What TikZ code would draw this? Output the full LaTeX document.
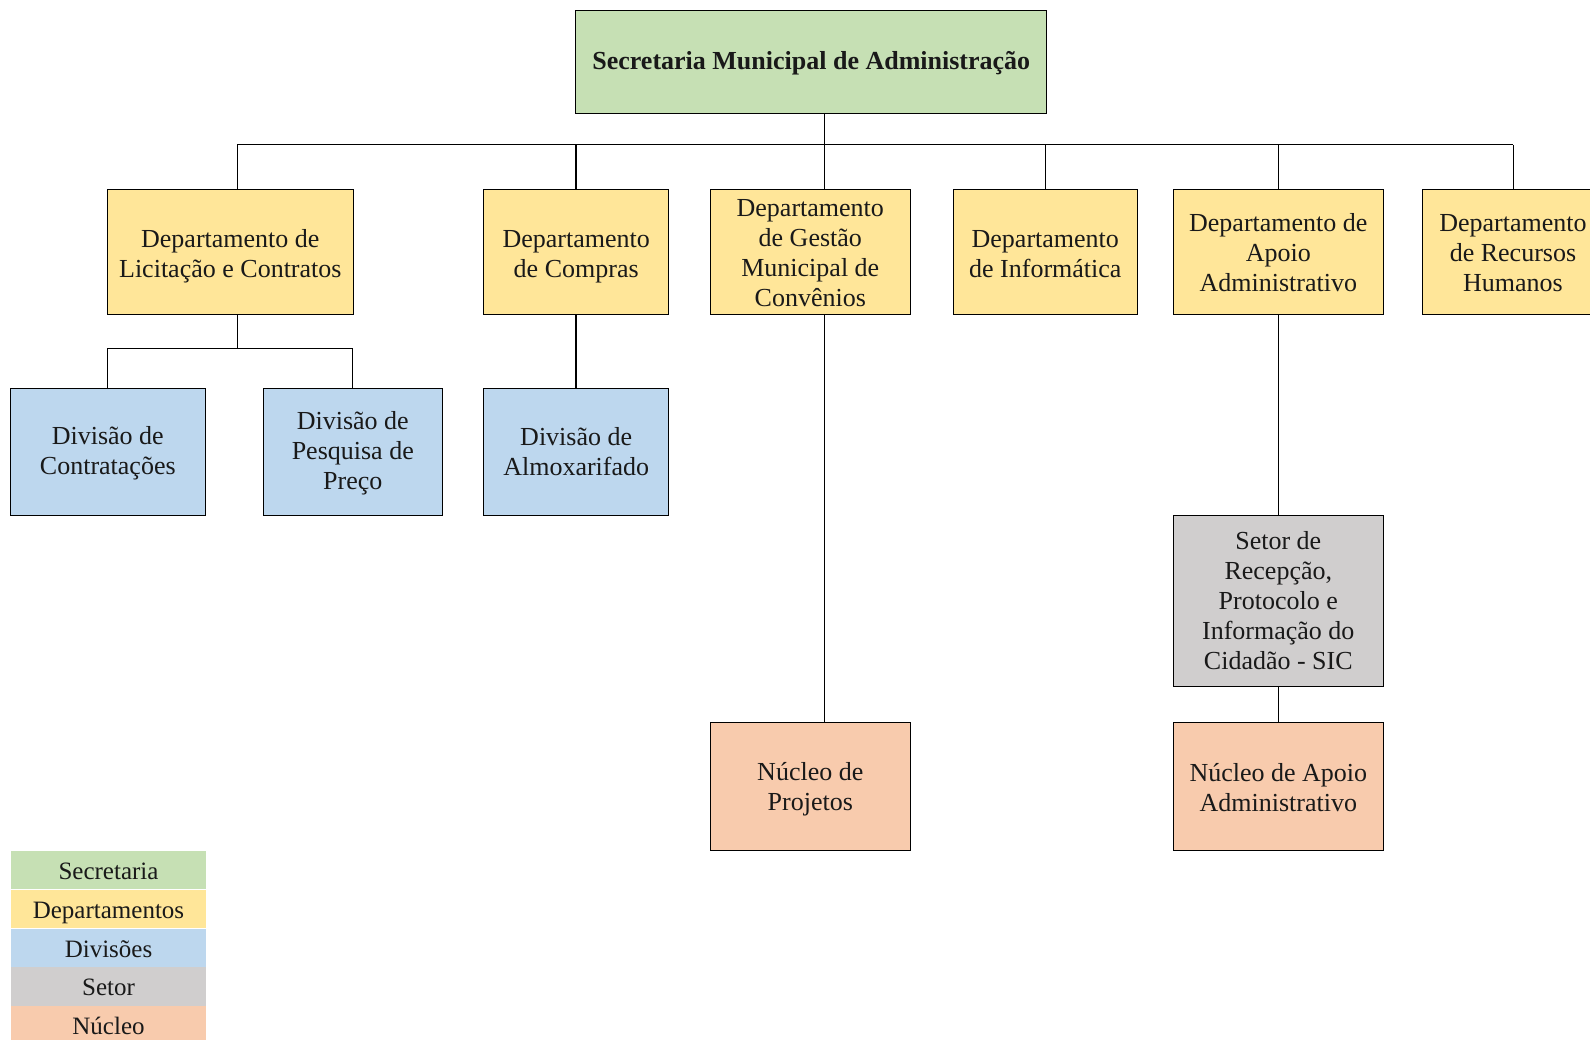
\documentclass[tikz,border=0pt]{standalone}
\usepackage{fontspec}
\setmainfont{Liberation Serif}
\definecolor{cSec}{HTML}{C6E0B4}
\definecolor{cDep}{HTML}{FFE699}
\definecolor{cDiv}{HTML}{BDD7EE}
\definecolor{cSet}{HTML}{D0CECE}
\definecolor{cNuc}{HTML}{F8CBAD}
% strut that pushes a node's text down by #1 pt
\newcommand\pushdown[1]{\rule{0pt}{\dimexpr17.8pt+2\dimexpr#1pt\relax\relax}}
\tikzset{
  box/.style={draw=black, line width=1pt, inner sep=0pt, align=center,
    font=\fontsize{26}{30}\selectfont, text=black!90},
  dep/.style={box, fill=cDep, minimum height=124.7pt},
  divbox/.style={box, fill=cDiv, minimum height=127pt},
  legbox/.style={inner sep=0pt, minimum width=195pt, minimum height=38.4pt,
    text height=18.5pt, text depth=0pt,
    font=\fontsize{25}{28}\selectfont, text=black!90},
  conn/.style={draw=black, line width=1pt},
  thick conn/.style={draw=black, line width=2pt}
}
\begin{document}
\begin{tikzpicture}[x=1pt,y=-1pt]
\clip (0,0) rectangle (1590,1040);
\useasboundingbox (0,0) rectangle (1590,1040);
\fill[white] (0,0) rectangle (1590,1040);

% top
\node[box, fill=cSec, minimum width=471.3pt, minimum height=103pt,
  font=\bfseries\fontsize{26}{30}\selectfont] (top) at (811.3,61.8)
  {\pushdown{2}Secretaria Municipal de Administração};

% departments
\node[dep, minimum width=246pt] (lic) at (230.3,251.7) {\pushdown{5}Departamento de\\Licitação e Contratos};
\node[dep, minimum width=185pt] (comp) at (576.2,251.7) {\pushdown{5}Departamento\\de Compras};
\node[dep, minimum width=200pt] (conv) at (810.3,251.7) {\pushdown{1}Departamento\\de Gestão\\Municipal de\\Convênios};
\node[dep, minimum width=184pt] (info) at (1045.3,251.7) {\pushdown{2}Departamento\\de Informática};
\node[dep, minimum width=210pt] (apoio) at (1278.3,251.7) {\pushdown{1}Departamento de\\Apoio\\Administrativo};
\node[dep, minimum width=181.4pt] (rh) at (1513,251.7) {\pushdown{1}Departamento\\de Recursos\\Humanos};

% divisions
\node[divbox, minimum width=195pt] (contr) at (107.8,451.8) {\pushdown{2}Divisão de\\Contratações};
\node[divbox, minimum width=179pt] (pesq) at (352.8,451.8) {\pushdown{2}Divisão de\\Pesquisa de\\Preço};
\node[divbox, minimum width=185pt] (almox) at (576.2,451.8) {Divisão de\\Almoxarifado};

% setor and nucleos
\node[box, fill=cSet, minimum width=210pt, minimum height=170.7pt] (setor) at (1278.3,600.7)
  {Setor de\\Recepção,\\Protocolo e\\Informação do\\Cidadão - SIC};
\node[box, fill=cNuc, minimum width=200pt, minimum height=128.3pt] (nproj) at (810.3,786.8)
  {\pushdown{3}Núcleo de\\Projetos};
\node[box, fill=cNuc, minimum width=210pt, minimum height=128.3pt] (napoio) at (1278.3,786.8)
  {\pushdown{1}Núcleo de Apoio\\Administrativo};

% bus coordinates
\coordinate (bL) at (237.3,145);
\coordinate (bC) at (576.2,145);
\coordinate (bV) at (824.3,145);
\coordinate (bI) at (1045.3,145);
\coordinate (bA) at (1278.3,145);
\coordinate (bR) at (1513,145);
\coordinate (sL) at (237.3,348.3);

\draw[conn] (bL) -- (bR);
\draw[conn] (top.south -| bV) -- (bV) -- (conv.north -| bV);
\draw[conn] (bL) -- (lic.north -| bL);
\draw[thick conn] (bC) -- (comp.north);
\draw[conn] (bI) -- (info.north);
\draw[conn] (bA) -- (apoio.north);
\draw[conn] (bR) -- (rh.north);

\draw[conn] (lic.south -| sL) -- (sL);
\draw[conn] (contr.north) -- (contr.north |- sL) -- (pesq.north |- sL) -- (pesq.north);
\draw[thick conn] (comp.south) -- (almox.north);
\draw[conn] (conv.south -| bV) -- (nproj.north -| bV);
\draw[conn] (apoio.south) -- (setor.north);
\draw[conn] (setor.south) -- (napoio.north);

% legend
\node[legbox, fill=cSec] (l1) at (108.5,870.2) {Secretaria};
\node[legbox, fill=cDep, anchor=north] (l2) at (l1.south) {Departamentos};
\node[legbox, fill=cDiv, anchor=north] (l3) at (l2.south) {Divisões};
\node[legbox, fill=cSet, anchor=north] (l4) at (l3.south) {Setor};
\node[legbox, fill=cNuc, anchor=north] (l5) at (l4.south) {Núcleo};
\end{tikzpicture}
\end{document}
